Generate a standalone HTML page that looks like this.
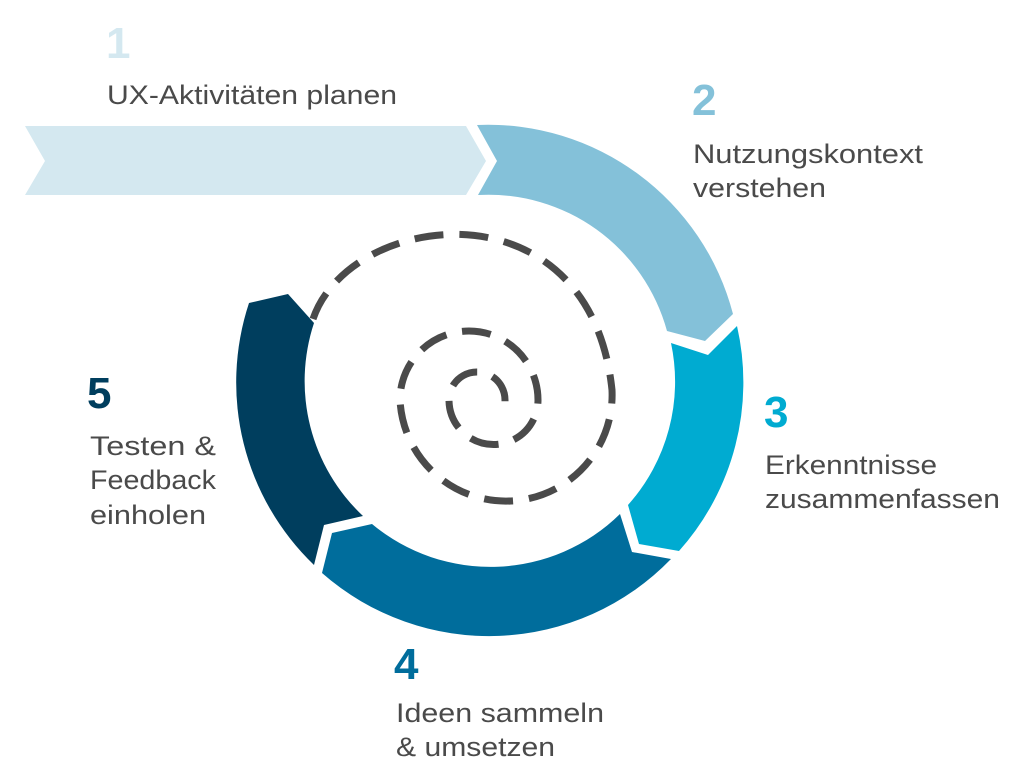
<!DOCTYPE html>
<html><head><meta charset="utf-8"><style>
html,body{margin:0;padding:0;background:#fff;}
svg{display:block;}
text{font-family:"Liberation Sans",sans-serif;}
.t{font-size:27px;fill:#4a4a4a;}
.n{font-size:44px;font-weight:bold;}
</style></head><body>
<svg width="1024" height="780" viewBox="0 0 1024 780" xmlns="http://www.w3.org/2000/svg">
<polygon points="25,126 466,126 486,161 466,195 25,195 45,161" fill="#d4e8f0"/>
<path d="M477,125 A253,253 0 0 1 733,314 L705,341 L667,331 A185,185 0 0 0 478,195 L497,161 Z" fill="#84c1d9"/>
<path d="M737,326 A253,253 0 0 1 679,551 L639,544 L628,505 A185,185 0 0 0 671,343 L708,355 Z" fill="#00abd1"/>
<path d="M671,559 A253,253 0 0 1 322,573 L332,533 L372,524 A185,185 0 0 0 620,514 L632,552 Z" fill="#006d9c"/>
<path d="M314,565 A253,253 0 0 1 249,303 L288,294 L314,323 A185,185 0 0 0 363,516 L324,525 Z" fill="#003e5e"/>
<path fill="none" stroke="#4a4a4a" stroke-width="7" stroke-dasharray="29 16" d="M313,319 C350,210 590,180 612,390 A106,106 0 0 1 400,400 A69,69 0 0 1 538,400 A44.5,44.5 0 0 1 449,400 A28,28 0 0 1 505,400 L505,404"/>
<text x="106" y="58" class="n" fill="#d4e8f0">1</text>
<text x="107" y="104" class="t" textLength="290" lengthAdjust="spacingAndGlyphs">UX-Aktivitäten planen</text>
<text x="692" y="115" class="n" fill="#84c1d9">2</text>
<text x="693" y="163" class="t" textLength="230" lengthAdjust="spacingAndGlyphs">Nutzungskontext</text>
<text x="693" y="197" class="t" textLength="133" lengthAdjust="spacingAndGlyphs">verstehen</text>
<text x="764" y="427" class="n" fill="#00abd1">3</text>
<text x="765" y="474" class="t" textLength="172" lengthAdjust="spacingAndGlyphs">Erkenntnisse</text>
<text x="765" y="508" class="t" textLength="235" lengthAdjust="spacingAndGlyphs">zusammenfassen</text>
<text x="394" y="679" class="n" fill="#006d9c">4</text>
<text x="396" y="722" class="t" textLength="208" lengthAdjust="spacingAndGlyphs">Ideen sammeln</text>
<text x="396" y="756" class="t" textLength="159" lengthAdjust="spacingAndGlyphs">&amp; umsetzen</text>
<text x="87" y="408" class="n" fill="#003e5e">5</text>
<text x="90" y="455" class="t" textLength="126" lengthAdjust="spacingAndGlyphs">Testen &amp;</text>
<text x="90" y="489" class="t" textLength="126" lengthAdjust="spacingAndGlyphs">Feedback</text>
<text x="90" y="524" class="t" textLength="116" lengthAdjust="spacingAndGlyphs">einholen</text>
</svg>
</body></html>
